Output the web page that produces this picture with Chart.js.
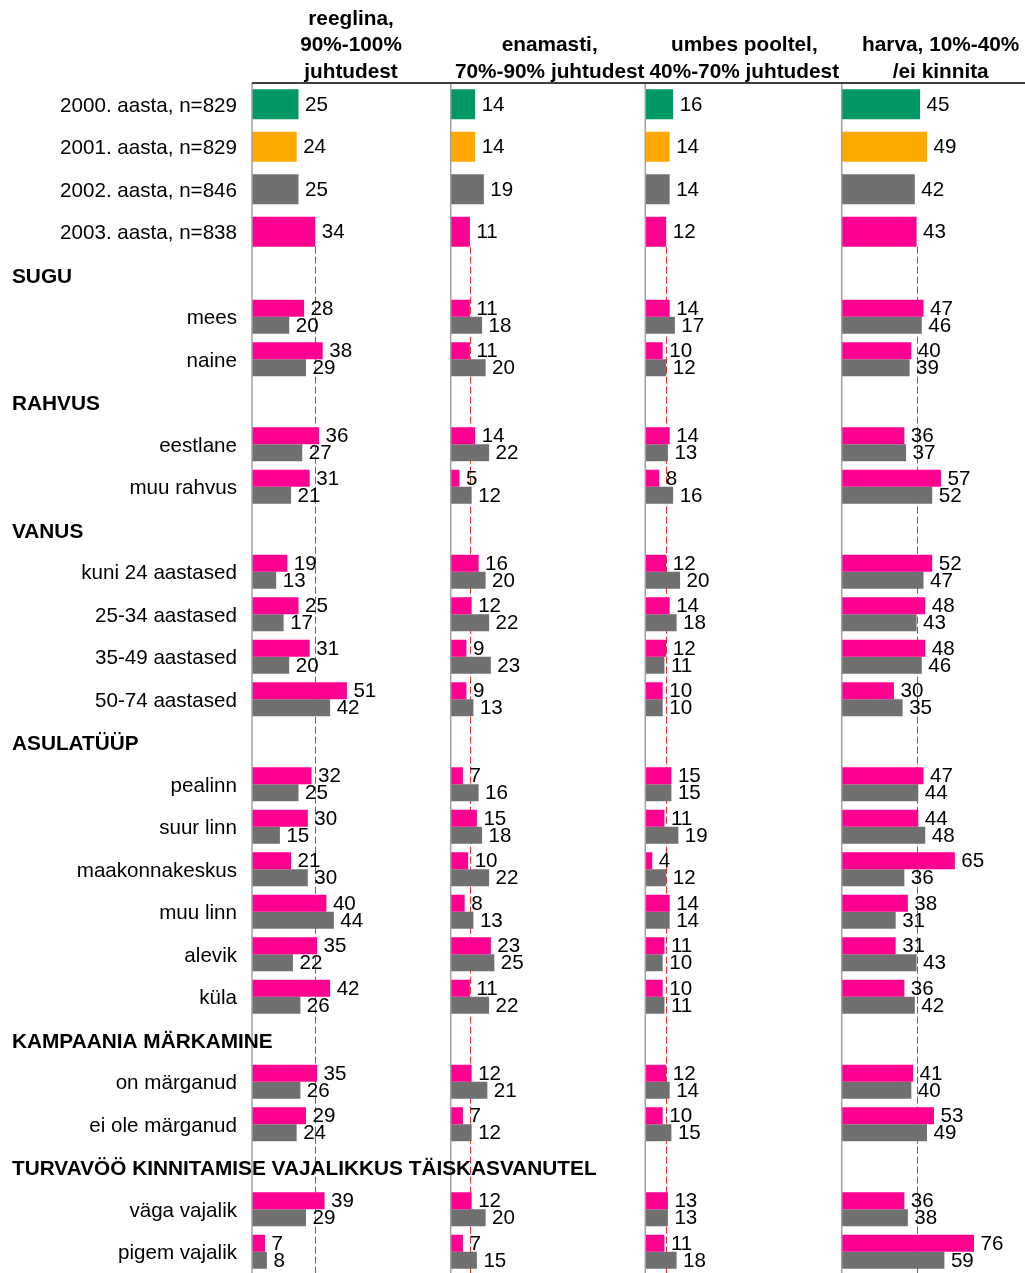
<!DOCTYPE html>
<html>
<head>
<meta charset="utf-8">
<script src="https://cdn.jsdelivr.net/npm/chart.js@4"></script>
<style>
  html, body { margin: 0; padding: 0; background: #fff; }
  canvas { display: block; }
</style>
</head>
<body>
<canvas id="chart" width="1025" height="1273"></canvas>
<script>
// rows of the chart, top to bottom
const rowLabels = [
  "2000. aasta, n=829", "2001. aasta, n=829", "2002. aasta, n=846", "2003. aasta, n=838",
  "SUGU", "mees", "naine",
  "RAHVUS", "eestlane", "muu rahvus",
  "VANUS", "kuni 24 aastased", "25-34 aastased", "35-49 aastased", "50-74 aastased",
  "ASULATÜÜP", "pealinn", "suur linn", "maakonnakeskus", "muu linn", "alevik", "küla",
  "KAMPAANIA MÄRKAMINE", "on märganud", "ei ole märganud",
  "TURVAVÖÖ KINNITAMISE VAJALIKKUS TÄISKASVANUTEL", "väga vajalik", "pigem vajalik"
];
const yearRows = ["2000. aasta, n=829", "2001. aasta, n=829", "2002. aasta, n=846", "2003. aasta, n=838"];
const sectionHeaders = ["SUGU", "RAHVUS", "VANUS", "ASULATÜÜP", "KAMPAANIA MÄRKAMINE",
  "TURVAVÖÖ KINNITAMISE VAJALIKKUS TÄISKASVANUTEL"];

const panelTitles = [
  ["reeglina,", "90%-100%", "juhtudest"],
  ["enamasti,", "70%-90% juhtudest"],
  ["umbes pooltel,", "40%-70% juhtudest"],
  ["harva, 10%-40%", "/ei kinnita"]
];

// whole sample by year, one list per panel (2000, 2001, 2002, 2003)
const yearTotals = [
  [25, 24, 25, 34],
  [14, 14, 19, 11],
  [16, 14, 14, 12],
  [45, 49, 42, 43]
];

// subgroups (mees ... pigem vajalik), 2003 survey
const values2003 = [
  [28, 38, 36, 31, 19, 25, 31, 51, 32, 30, 21, 40, 35, 42, 35, 29, 39, 7],
  [11, 11, 14, 5, 16, 12, 9, 9, 7, 15, 10, 8, 23, 11, 12, 7, 12, 7],
  [14, 10, 14, 8, 12, 14, 12, 10, 15, 11, 4, 14, 11, 10, 12, 10, 13, 11],
  [47, 40, 36, 57, 52, 48, 48, 30, 47, 44, 65, 38, 31, 36, 41, 53, 36, 76]
];

// subgroups, 2002 survey
const values2002 = [
  [20, 29, 27, 21, 13, 17, 20, 42, 25, 15, 30, 44, 22, 26, 26, 24, 29, 8],
  [18, 20, 22, 12, 20, 22, 23, 13, 16, 18, 22, 13, 25, 22, 21, 12, 20, 15],
  [17, 12, 13, 16, 20, 18, 11, 10, 15, 19, 12, 14, 10, 11, 14, 15, 13, 18],
  [46, 39, 37, 52, 47, 43, 46, 35, 44, 48, 36, 31, 43, 42, 40, 49, 38, 59]
];

const FONT = "'Liberation Sans', Arial, sans-serif";
const FONT_SIZE = 20.6;
const BOLD_SIZE = 20.8;
const yearColors = ["#009966", "#ffa800", "#707070", "#ff0090"];
const color2003 = "#ff0090";
const color2002 = "#707070";

// spread a panel's values over all 28 rows (null where no bar)
function rowValues(p, kind) {
  let k = 0;
  return rowLabels.map((label, i) => {
    if (yearRows.includes(label)) return kind === "total" ? yearTotals[p][i] : null;
    if (sectionHeaders.includes(label)) return null;
    const v = kind === "2003" ? values2003[p][k] : kind === "2002" ? values2002[p][k] : null;
    k++;
    return v;
  });
}

const panelIds = ["x0", "x1", "x2", "x3"];
const panelWeights = [198.7, 194.6, 196.4, 183.3];
const panelMax = [106.8, 111.5, 112.9, 105.3];

const datasets = [];
panelIds.forEach((id, p) => {
  datasets.push({
    label: "kokku", data: rowValues(p, "total"), xAxisID: id, stack: "c",
    backgroundColor: yearColors, barPercentage: 0.88, skipNull: true
  });
  datasets.push({
    label: "2003", data: rowValues(p, "2003"), xAxisID: id, stack: "a",
    backgroundColor: color2003, barPercentage: 1, skipNull: true
  });
  datasets.push({
    label: "2002", data: rowValues(p, "2002"), xAxisID: id, stack: "b",
    backgroundColor: color2002, barPercentage: 1, skipNull: true
  });
});

const scales = {
  y: {
    grid: { display: false, drawTicks: false },
    border: { display: false },
    ticks: {
      autoSkip: false,
      padding: 15,
      labelOffset: 2,
      color: "#000",
      font: { family: FONT, size: FONT_SIZE },
      callback: function (v, i) {
        const label = rowLabels[i];
        return sectionHeaders.includes(label) ? "" : label;
      }
    },
    afterFit: s => { s.width = 252; s.paddingTop = 0; s.paddingBottom = 0; }
  }
};
panelIds.forEach((id, p) => {
  scales[id] = {
    type: "linear", position: "bottom", stack: "panels", stackWeight: panelWeights[p],
    min: 0, max: panelMax[p], stacked: false, display: false
  };
});

const panelDecor = {
  id: "panelDecor",
  beforeDatasetsDraw(chart) {
    const { ctx, chartArea } = chart;
    ctx.save();
    ctx.setLineDash([7, 3]);
    ctx.strokeStyle = "#ee2a2a";
    ctx.lineWidth = 1;
    panelIds.forEach((id, p) => {
      const bar = chart.getDatasetMeta(p * 3).data[3];
      const x = Math.round(chart.scales[id].getPixelForValue(yearTotals[p][3])) + 0.5;
      ctx.beginPath();
      ctx.moveTo(x, bar.y + bar.height / 2);
      ctx.lineTo(x, chartArea.bottom);
      ctx.stroke();
    });
    ctx.restore();
  },
  afterDatasetsDraw(chart) {
    const { ctx, chartArea } = chart;
    ctx.save();

    // panel axes
    ctx.strokeStyle = "#a0a0a0";
    ctx.lineWidth = 1.5;
    panelIds.forEach(id => {
      const x = chart.scales[id].left;
      ctx.beginPath();
      ctx.moveTo(x, chartArea.top);
      ctx.lineTo(x, chartArea.bottom);
      ctx.stroke();
    });

    // line under the titles
    ctx.strokeStyle = "#000";
    ctx.lineWidth = 1.5;
    ctx.beginPath();
    ctx.moveTo(chartArea.left, chartArea.top);
    ctx.lineTo(chart.width, chartArea.top);
    ctx.stroke();

    // value labels
    ctx.fillStyle = "#000";
    ctx.font = FONT_SIZE + "px " + FONT;
    ctx.textAlign = "left";
    ctx.textBaseline = "middle";
    chart.data.datasets.forEach((ds, i) => {
      const meta = chart.getDatasetMeta(i);
      ds.data.forEach((v, j) => {
        if (v === null) return;
        const el = meta.data[j];
        ctx.fillText(String(v), el.x + 6.5, el.y + 1);
      });
    });

    // section headers
    ctx.font = "bold " + BOLD_SIZE + "px " + FONT;
    const yScale = chart.scales.y;
    rowLabels.forEach((label, i) => {
      if (!sectionHeaders.includes(label)) return;
      ctx.fillText(label, 12, yScale.getPixelForValue(i) + 3);
    });

    // panel titles
    ctx.textAlign = "center";
    panelIds.forEach((id, p) => {
      const cx = chart.scales[id].left + 99;
      const lines = panelTitles[p];
      lines.forEach((line, k) => {
        const y = 72 - (lines.length - 1 - k) * 26.5;
        ctx.fillText(line, cx, y);
      });
    });

    ctx.restore();
  }
};

new Chart(document.getElementById("chart").getContext("2d"), {
  type: "bar",
  data: { labels: rowLabels, datasets: datasets },
  options: {
    indexAxis: "y",
    responsive: false,
    animation: false,
    layout: { padding: { top: 83, left: 0, right: 0, bottom: 0 } },
    plugins: {
      legend: { display: false },
      tooltip: { enabled: false }
    },
    scales: scales
  },
  plugins: [panelDecor]
});
</script>
</body>
</html>
